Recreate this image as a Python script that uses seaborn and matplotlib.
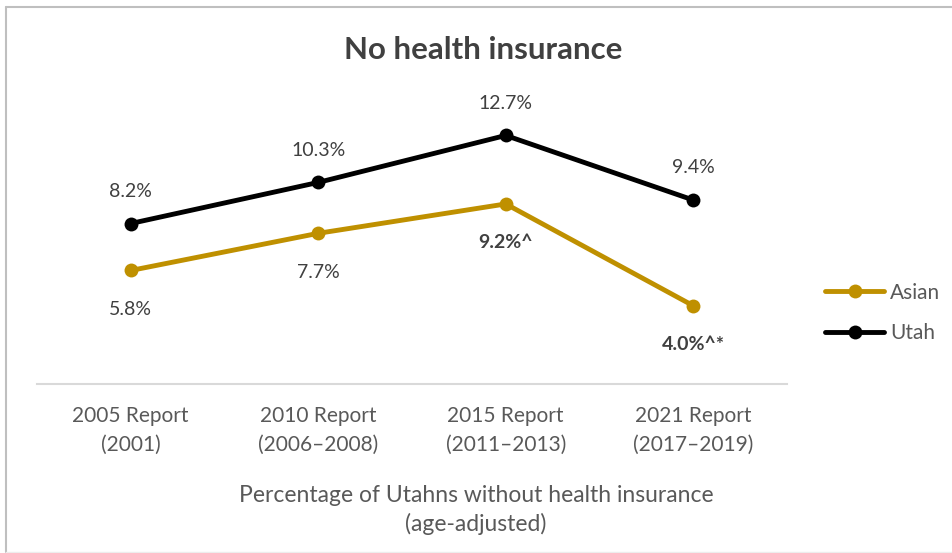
import matplotlib
matplotlib.use("Agg")
import matplotlib.pyplot as plt
import seaborn as sns
import pandas as pd
from matplotlib.lines import Line2D

# Data
reports = ["2005 Report\n(2001)", "2010 Report\n(2006\u20132008)",
           "2015 Report\n(2011\u20132013)", "2021 Report\n(2017\u20132019)"]
asian = [5.8, 7.7, 9.2, 4.0]
utah = [8.2, 10.3, 12.7, 9.4]
asian_labels = ["5.8%", "7.7%", "9.2%^", "4.0%^*"]
utah_labels = ["8.2%", "10.3%", "12.7%", "9.4%"]
asian_bold = [False, False, True, True]

sns.set_theme(style="white")
plt.rcParams["font.family"] = ["Lato", "DejaVu Sans"]

df = pd.DataFrame({
    "x": list(range(len(reports))) * 2,
    "value": asian + utah,
    "group": ["Asian"] * len(asian) + ["Utah"] * len(utah),
})

GOLD = "#BF9000"
BLACK = "#000000"
TXT = "#404040"
TICK = "#595959"

fig = plt.figure(figsize=(9.53, 5.53), dpi=100)
ax = fig.add_axes([37 / 953, 1 - 384 / 553, 750 / 953, (384 - 110) / 553])

sns.lineplot(data=df, x="x", y="value", hue="group", palette={"Asian": GOLD, "Utah": BLACK},
             marker="o", markersize=10, linewidth=3.5, markeredgewidth=0, ax=ax, legend=False)

ax.set_xlim(-0.5, 3.5)
ax.set_ylim(0, 14)
ax.set_yticks([])
ax.set_xticks(range(len(reports)))
ax.set_xticklabels(reports, fontsize=15, color=TICK, linespacing=1.55)
ax.tick_params(axis="x", length=0, pad=16)
for s in ["top", "right", "left"]:
    ax.spines[s].set_visible(False)
ax.spines["bottom"].set_color("#d9d9d9")
ax.spines["bottom"].set_linewidth(1.5)
ax.set_xlabel("")
ax.set_ylabel("")

# data labels
for i, (v, lab) in enumerate(zip(utah, utah_labels)):
    ax.annotate(lab, (i, v), xytext=(0, 17), textcoords="offset points",
                ha="center", va="bottom", fontsize=14, color=TXT)
for i, (v, lab, b) in enumerate(zip(asian, asian_labels, asian_bold)):
    ax.annotate(lab, (i, v), xytext=(0, -22), textcoords="offset points",
                ha="center", va="top", fontsize=14, color=TXT,
                fontweight="bold" if b else "normal")

fig.text(483 / 953, 1 - 50 / 553, "No health insurance", ha="center", va="center",
         fontsize=22.5, fontweight="bold", color=TXT)
fig.text(476 / 953, 1 - 510 / 553,
         "Percentage of Utahns without health insurance\n(age-adjusted)",
         ha="center", va="center", fontsize=16.5, color=TICK, linespacing=1.4)

# legend
handles = [Line2D([], [], color=GOLD, lw=3.5, marker="o", markersize=10, markeredgewidth=0),
           Line2D([], [], color=BLACK, lw=3.5, marker="o", markersize=10, markeredgewidth=0)]
fig.legend(handles, ["Asian", "Utah"], loc="center left",
           bbox_to_anchor=(815 / 953, 1 - 313 / 553), frameon=False, fontsize=15,
           labelcolor=TICK, handlelength=2.8, handletextpad=0.3, labelspacing=1.0,
           borderpad=0)

# chart frame
fig.add_artist(Line2D([6 / 953, 6 / 953], [1 - 552 / 553, 1 - 7 / 553],
                      transform=fig.transFigure, color="#bfbfbf", lw=1.5))
fig.add_artist(Line2D([6 / 953, 1.0], [1 - 7 / 553, 1 - 7 / 553],
                      transform=fig.transFigure, color="#bfbfbf", lw=1.5))
fig.add_artist(Line2D([6 / 953, 1.0], [1 - 552 / 553, 1 - 552 / 553],
                      transform=fig.transFigure, color="#ededed", lw=1.0))

fig.savefig("out.png", dpi=100)
